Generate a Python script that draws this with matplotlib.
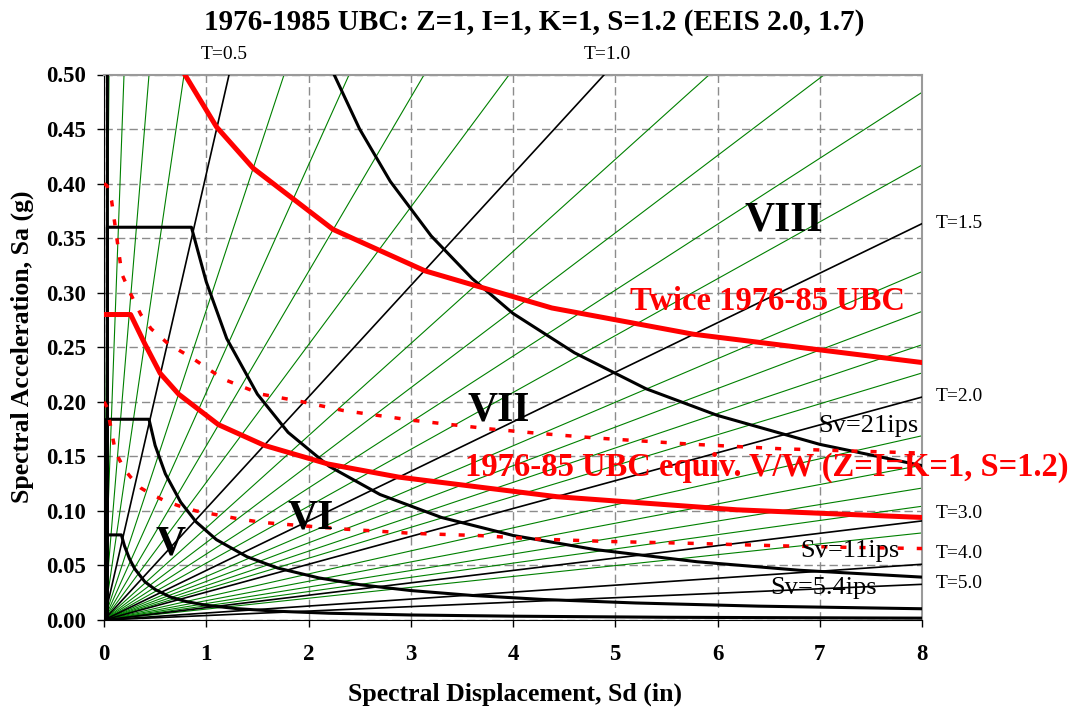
import numpy as np
import matplotlib
matplotlib.use('Agg')
import matplotlib.pyplot as plt

plt.rcParams['font.family'] = ['Liberation Serif', 'DejaVu Serif']
plt.rcParams['mathtext.default'] = 'regular'

g = 386.4  # in/s^2

# Period lines (s)
green_periods = [0.1, 0.2, 0.3, 0.4, 0.6, 0.7, 0.8, 0.9, 1.1, 1.2, 1.3, 1.4,
                 1.6, 1.7, 1.8, 1.9, 2.2, 2.4, 2.6, 2.8, 3.2]
black_periods = [0.5, 1.0, 1.5, 2.0, 3.0, 4.0, 5.0]
period_labels = ['T=0.5', 'T=1.0', 'T=1.5', 'T=2.0', 'T=3.0', 'T=4.0', 'T=5.0']

# MMI bounds, Sd (in) vs Sa (g)
mmi5_sd = [0.013, 0.013, 0.17, 0.20, 0.25, 0.30, 0.40, 0.50, 0.65, 0.80, 1.0, 1.3, 1.7, 2.2, 3.0, 4.0, 5.5, 8.0]
mmi5_sa = [0.0, 0.078, 0.078, 0.068, 0.056, 0.047, 0.035, 0.028, 0.021, 0.017, 0.0135, 0.0104, 0.0080,
           0.0062, 0.0046, 0.0035, 0.0025, 0.0017]
mmi6_sd = [0.024, 0.024, 0.44, 0.50, 0.60, 0.75, 0.90, 1.1, 1.4, 1.7, 2.1, 2.5, 3.0, 3.6, 4.3, 5.2, 6.4, 8.0]
mmi6_sa = [0.0, 0.184, 0.184, 0.160, 0.134, 0.108, 0.090, 0.0736, 0.0579, 0.0476, 0.0386, 0.0324,
           0.0270, 0.0225, 0.0188, 0.0156, 0.0127, 0.0103]
mmi7_sd = [0.033, 0.033, 0.855, 1.0, 1.2, 1.5, 1.8, 2.2, 2.7, 3.3, 4.0, 4.8, 5.8, 6.8, 8.0]
mmi7_sa = [0.0, 0.360, 0.360, 0.310, 0.258, 0.207, 0.172, 0.141, 0.115, 0.094, 0.0775, 0.0646,
           0.0534, 0.0456, 0.0393]
mmi8_sd = [0.033, 0.033, 1.25, 1.6, 2.0, 2.25, 2.5, 2.8, 3.2, 3.6, 4.0, 4.6, 5.3, 6.0, 7.0, 8.0]
mmi8_sa = [0.0, 0.90, 0.90, 0.70, 0.56, 0.50, 0.45, 0.402, 0.352, 0.313, 0.281, 0.245, 0.212,
           0.1875, 0.161, 0.1415]

# 1976-85 UBC equivalent V/W and twice that
ubc_sd = [0.0, 0.26, 0.40, 0.55, 0.73, 1.12, 1.57, 2.19, 2.88, 4.43, 6.19, 8.0]
ubc_sa = [0.28, 0.28, 0.253, 0.226, 0.207, 0.179, 0.160, 0.143, 0.131, 0.113, 0.101, 0.094]
ubc2_sd = [0.79, 1.10, 1.46, 2.24, 3.14, 4.38, 5.76, 8.0]
ubc2_sa = [0.50, 0.452, 0.414, 0.358, 0.320, 0.286, 0.262, 0.236]

# dotted curves
dot_lo_sd = [0.0, 0.03, 0.06, 0.10, 0.14, 0.20, 0.26, 0.36, 0.46, 0.60, 0.73, 0.90, 1.07, 1.30, 1.54,
             1.94, 2.34, 3.02, 3.69, 4.23, 4.93, 5.77, 6.61, 7.28, 8.0]
dot_lo_sa = [0.200, 0.195, 0.180, 0.160, 0.149, 0.138, 0.131, 0.121, 0.1154, 0.109, 0.1047, 0.100,
             0.097, 0.093, 0.0895, 0.0864, 0.0834, 0.0794, 0.0773, 0.0742, 0.072, 0.0702, 0.068,
             0.0666, 0.0655]
dot_hi_sd = [0.0, 0.03, 0.074, 0.124, 0.175, 0.26, 0.36, 0.46, 0.63, 0.864, 1.167, 1.537, 1.94, 2.34,
             3.02, 3.79, 4.26, 4.83, 5.77, 6.61, 7.28, 8.0]
dot_hi_sa = [0.400, 0.398, 0.3845, 0.351, 0.317, 0.299, 0.280, 0.267, 0.253, 0.240, 0.2208, 0.207,
             0.200, 0.192, 0.183, 0.175, 0.171, 0.1667, 0.161, 0.157, 0.155, 0.153]

fig = plt.figure(figsize=(10.81, 7.11), dpi=100)
ax = fig.add_axes([104 / 1081, 1 - 620 / 711, 818 / 1081, 545.5 / 711])

ax.set_xlim(0, 8)
ax.set_ylim(0, 0.5)
ax.set_xticks(np.arange(0, 9, 1))
ax.set_yticks(np.arange(0, 0.501, 0.05))
ax.set_yticklabels(['%.2f' % v for v in np.arange(0, 0.501, 0.05)])
ax.tick_params(direction='out', length=5, width=1, labelsize=16.5)
for lab in ax.get_xticklabels() + ax.get_yticklabels():
    lab.set_fontweight('bold')
ax.tick_params(axis='x', pad=12)
ax.tick_params(axis='y', pad=8)
ax.grid(True, color='#8c8c8c', linestyle=(0, (6, 3)), linewidth=1)
ax.set_axisbelow(True)
for side in ['top', 'right']:
    ax.spines[side].set_color('#9a9a9a')
    ax.spines[side].set_linewidth(1.5)

# radial period lines: Sa = (2 pi / T)^2 Sd / g
sd_end = 8.0
for T in green_periods:
    k = (2 * np.pi / T) ** 2 / g
    ax.plot([0, sd_end], [0, k * sd_end], color='green', linewidth=0.8, zorder=2)
for T in black_periods:
    k = (2 * np.pi / T) ** 2 / g
    ax.plot([0, sd_end], [0, k * sd_end], color='black', linewidth=1.2, zorder=3)

for sd, sa in [(mmi5_sd, mmi5_sa), (mmi6_sd, mmi6_sa), (mmi7_sd, mmi7_sa), (mmi8_sd, mmi8_sa)]:
    ax.plot(sd, sa, color='black', linewidth=2.2, zorder=4, solid_joinstyle='round')

dots = (0, (1.75, 3.75))
ax.plot(dot_lo_sd, dot_lo_sa, color='red', linewidth=2.5, linestyle=dots, zorder=5)
ax.plot(dot_hi_sd, dot_hi_sa, color='red', linewidth=2.5, linestyle=dots, zorder=5)
ax.plot(ubc_sd, ubc_sa, color='red', linewidth=3.6, zorder=6, solid_joinstyle='round')
ax.plot(ubc2_sd, ubc2_sa, color='red', linewidth=3.6, zorder=6, solid_joinstyle='round')

# region labels
ax.text(6.65, 0.366, 'VIII', fontsize=30, fontweight='bold', ha='center', va='center', zorder=8)
ax.text(3.86, 0.192, 'VII', fontsize=30, fontweight='bold', ha='center', va='center', zorder=8)
ax.text(2.02, 0.093, 'VI', fontsize=30, fontweight='bold', ha='center', va='center', zorder=8)
ax.text(0.65, 0.069, 'V', fontsize=30, fontweight='bold', ha='center', va='center', zorder=8)

ax.text(5.14, 0.292, 'Twice 1976-85 UBC', color='red', fontsize=23.5, fontweight='bold',
        ha='left', va='center', zorder=9)
ax.text(3.53, 0.140, '1976-85 UBC equiv. V/W (Z=I=K=1, S=1.2)', color='red', fontsize=23.5,
        fontweight='bold', ha='left', va='center', zorder=9, clip_on=False)

ax.text(6.99, 0.172, 'Sv=21ips', fontsize=19, ha='left', va='baseline', zorder=8)
ax.text(6.81, 0.0576, 'Sv=11ips', fontsize=19, ha='left', va='baseline', zorder=8)
ax.text(6.52, 0.024, 'Sv=5.4ips', fontsize=19, ha='left', va='baseline', zorder=8)

# period labels along the frame
ax.text(1.18, 0.518, period_labels[0], fontsize=14, ha='center', va='center', clip_on=False)
ax.text(4.92, 0.518, period_labels[1], fontsize=14, ha='center', va='center', clip_on=False)
right_y = [0.363, 0.205, 0.098, 0.0614, 0.033]
for lab, yy in zip(period_labels[2:], right_y):
    ax.text(8.13, yy, lab, fontsize=14, ha='left', va='center', clip_on=False)

fig.text(534 / 1081, 1 - 22 / 711, '1976-1985 UBC: Z=1, I=1, K=1, S=1.2 (EEIS 2.0, 1.7)',
         fontsize=21, fontweight='bold', ha='center', va='center')
fig.text(515 / 1081, 1 - 694 / 711, 'Spectral Displacement, Sd (in)', fontsize=18.5,
         fontweight='bold', ha='center', va='center')
fig.text(22 / 1081, 1 - 347 / 711, 'Spectral Acceleration, Sa (g)', fontsize=18.5,
         fontweight='bold', ha='center', va='center', rotation=90)

fig.savefig('out.png', dpi=100)
